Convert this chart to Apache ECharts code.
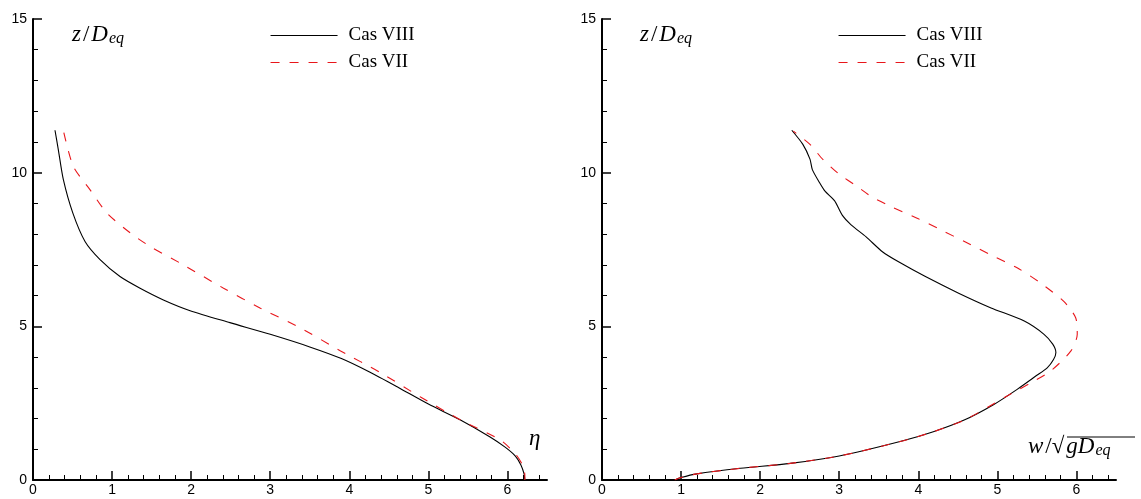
<!DOCTYPE html>
<html>
<head>
<meta charset="utf-8">
<script src="https://cdn.jsdelivr.net/npm/echarts@6/dist/echarts.min.js"></script>
<style>html,body{margin:0;padding:0;background:#fff;}#c{width:1141px;height:499px;}</style>
</head>
<body>
<div id="c"></div>
<script>
// ---- data (left panel: eta vs z/Deq) ----
const leftCas8Eta = [0.278,0.32,0.384,0.503,0.658,0.848,1.10,1.354,1.649,1.987,2.49,3.0,3.5,3.9,4.25,4.62,5.0,5.4,5.78,5.97,6.10,6.17,6.21,6.22];
const leftCas8Z   = [11.38,10.75,9.77,8.69,7.76,7.17,6.62,6.24,5.86,5.51,5.12,4.74,4.33,3.95,3.52,3.01,2.47,1.96,1.40,1.07,0.78,0.49,0.20,0.0];
const leftCas7Eta = [0.39,0.51,0.72,0.933,1.23,1.48,1.86,2.41,2.87,3.38,3.89,4.39,4.90,5.41,5.91,6.10,6.19,6.22,6.22];
const leftCas7Z   = [11.30,10.20,9.45,8.69,8.04,7.60,7.06,6.24,5.60,4.95,4.20,3.50,2.70,1.95,1.30,0.85,0.49,0.15,0.0];
// ---- data (right panel: w/sqrt(gDeq) vs z/Deq) ----
const rightCas8W = [0.92,1.0,1.2,1.75,2.38,3.0,3.77,4.19,4.58,4.95,5.25,5.49,5.63,5.71,5.74,5.70,5.59,5.34,4.92,4.51,4.09,3.75,3.55,3.34,3.15,3.04,2.94,2.82,2.75,2.66,2.63,2.54,2.40];
const rightCas8Z = [0.0,0.08,0.2,0.38,0.54,0.78,1.25,1.57,1.95,2.45,2.95,3.39,3.65,3.92,4.15,4.42,4.74,5.17,5.6,6.08,6.62,7.1,7.42,7.91,8.3,8.61,9.09,9.4,9.68,10.1,10.44,10.92,11.38];
const rightCas7W = [0.92,1.0,1.2,1.75,2.38,3.0,3.77,4.19,4.6,5.1,5.45,5.68,5.93,6.01,5.99,5.84,5.55,5.26,4.92,4.59,4.30,4.00,3.67,3.42,3.21,3.0,2.79,2.63,2.42];
const rightCas7Z = [0.0,0.08,0.2,0.38,0.54,0.78,1.25,1.57,1.97,2.70,3.20,3.56,4.20,4.74,5.28,5.81,6.40,6.89,7.32,7.75,8.12,8.50,8.88,9.20,9.58,9.95,10.44,10.92,11.35];
// ---- axes ----
const xMajorTicks = [0,1,2,3,4,5,6];
const xMinorTicks = [0.2,0.4,0.6,0.8,1.2,1.4,1.6,1.8,2.2,2.4,2.6,2.8,3.2,3.4,3.6,3.8,4.2,4.4,4.6,4.8,5.2,5.4,5.6,5.8,6.2,6.4];
const xMin = 0, xMax = 6.5, yMin = 0, yMax = 15, yInterval = 5;
const seriesNames = ['Cas VIII','Cas VII'];

const zip = (a,b) => a.map((v,i) => [v,b[i]]);
const grids = [{left:33, top:19, width:514, height:461}, {left:602, top:19, width:514, height:461}];
const tickFont = {fontFamily:'Liberation Sans, Arial, sans-serif', fontSize:14, color:'#000'};

function mainX(gi){
  return {type:'value', gridIndex:gi, min:xMin, max:xMax,
    axisLine:{show:true, onZero:false, lineStyle:{color:'#000', width:2}},
    axisTick:{show:true, inside:true, length:9, customValues:xMajorTicks, lineStyle:{color:'#000', width:1.5}},
    axisLabel:{show:true, customValues:xMajorTicks, margin:3, ...tickFont},
    splitLine:{show:false}};
}
function minorX(gi){
  return {type:'value', gridIndex:gi, min:xMin, max:xMax, position:'bottom',
    axisLine:{show:false},
    axisTick:{show:true, inside:true, length:5, customValues:xMinorTicks, lineStyle:{color:'#000', width:1}},
    axisLabel:{show:false}, splitLine:{show:false}};
}
function mainY(gi){
  return {type:'value', gridIndex:gi, min:yMin, max:yMax, interval:yInterval,
    axisLine:{show:true, onZero:false, lineStyle:{color:'#000', width:2}},
    axisTick:{show:true, inside:true, length:9, lineStyle:{color:'#000', width:1.5}},
    minorTick:{show:true, splitNumber:5, length:5, lineStyle:{color:'#000', width:1}},
    axisLabel:{margin:6, ...tickFont},
    splitLine:{show:false}, minorSplitLine:{show:false}};
}
const blackStyle = {color:'#000', width:1.1, type:'solid'};
const redStyle = {color:'#e8161b', width:1.1, type:[9,10]};
function line(name, xi, yi, data, style){
  return {name, type:'line', xAxisIndex:xi, yAxisIndex:yi, data, showSymbol:false, symbol:'none',
    smooth:0.25, lineStyle:style, itemStyle:{color:style.color}, animation:false, z:3};
}
const serif = 'Liberation Serif, Times New Roman, serif';
const legendText = {fontFamily:serif, fontSize:19, color:'#000', padding:[0,0,0,6]};
const richMath = {
  i:{fontFamily:serif, fontStyle:'italic', fontWeight:'normal', fontSize:23, color:'#000'},
  n:{fontFamily:serif, fontWeight:'normal', fontSize:23, color:'#000', padding:[0,2,0,2]},
  s:{fontFamily:serif, fontStyle:'italic', fontWeight:'normal', fontSize:16, color:'#000', verticalAlign:'bottom', padding:[9,0,0,1]}
};
const legendBase = {data:seriesNames, orient:'vertical', top:26, padding:0, itemWidth:67, itemHeight:14, itemGap:8,
  textStyle:legendText, selectedMode:false, itemStyle:{opacity:0, borderWidth:0}, lineStyle:{width:1.1}};
const option = {
  backgroundColor:'#fff',
  animation:false,
  grid: grids,
  xAxis:[mainX(0), minorX(0), mainX(1), minorX(1)],
  yAxis:[mainY(0), mainY(1)],
  legend:[
    Object.assign({left:270}, legendBase),
    Object.assign({left:838}, legendBase)
  ],
  title:[
    {text:'{i|z}{n|/}{i|D}{s|eq}', left:72, top:22, padding:0, textStyle:{rich:richMath}},
    {text:'{i|z}{n|/}{i|D}{s|eq}', left:640, top:22, padding:0, textStyle:{rich:richMath}},
    {text:'{i|η}', left:529, top:427, padding:0, textStyle:{rich:richMath}},
    {text:'{i|w}{n|/√}{i|gD}{s|eq}', left:1028, top:434, padding:0, textStyle:{rich:richMath}}
  ],
  graphic:[{type:'line', shape:{x1:1067, y1:437, x2:1135, y2:437}, style:{stroke:'#000', lineWidth:1}}],
  series:[
    line('Cas VIII', 0, 0, zip(leftCas8Eta, leftCas8Z), blackStyle),
    line('Cas VII', 0, 0, zip(leftCas7Eta, leftCas7Z), redStyle),
    line('Cas VIII', 2, 1, zip(rightCas8W, rightCas8Z), blackStyle),
    line('Cas VII', 2, 1, zip(rightCas7W, rightCas7Z), redStyle)
  ]
};
const chart = echarts.init(document.getElementById('c'), null, {renderer:'canvas'});
chart.setOption(option);
</script>
</body>
</html>
